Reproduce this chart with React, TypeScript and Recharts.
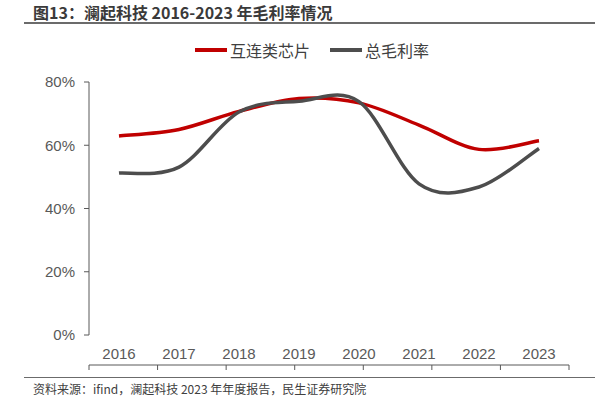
import React from "react";
import { LineChart, Line, XAxis, YAxis } from "recharts";

// 图13：澜起科技 2016-2023 年毛利率情况
const years = ["2016", "2017", "2018", "2019", "2020", "2021", "2022", "2023"];
const interconnect = [62.9, 65.0, 70.7, 74.8, 73.4, 66.4, 58.7, 61.4];
const totalMargin = [51.2, 53.1, 70.5, 73.9, 73.8, 47.8, 46.8, 59.0];
const yTicks = [0, 20, 40, 60, 80];
const bandEdges = [0, 1, 2, 3, 4, 5, 6, 7, 8];

const series = [
  { key: "interconnect", name: "互连类芯片", color: "#C00000" },
  { key: "total", name: "总毛利率", color: "#4D4D4D" },
];

const data = years.map((y, i) => ({
  year: y,
  interconnect: interconnect[i],
  total: totalMargin[i],
}));

const CJK = '"Noto Sans CJK SC", "Noto Sans", sans-serif';
const AXIS = "#595959";

// Excel 风格平滑线（Catmull-Rom → 三次贝塞尔）
const smooth = (ctx: any) => {
  let pts: number[][] = [];
  return {
    areaStart() {},
    areaEnd() {},
    lineStart() {
      pts = [];
    },
    point(x: number, y: number) {
      pts.push([+x, +y]);
    },
    lineEnd() {
      if (!pts.length) return;
      ctx.moveTo(pts[0][0], pts[0][1]);
      for (let i = 0; i < pts.length - 1; i++) {
        const p0 = pts[i - 1] || pts[i];
        const p1 = pts[i];
        const p2 = pts[i + 1];
        const p3 = pts[i + 2] || p2;
        ctx.bezierCurveTo(
          p1[0] + (p2[0] - p0[0]) / 6,
          p1[1] + (p2[1] - p0[1]) / 6,
          p2[0] - (p3[0] - p1[0]) / 6,
          p2[1] - (p3[1] - p1[1]) / 6,
          p2[0],
          p2[1]
        );
      }
    },
  };
};

export default function App() {
  return (
    <div style={{ position: "absolute", left: 0, top: 0, width: 610, height: 404, background: "#fff", fontFamily: CJK }}>
      <div
        style={{
          position: "absolute",
          left: 33,
          top: 2,
          fontSize: 16,
          lineHeight: "20px",
          fontWeight: 700,
          color: "#3A3A3A",
          whiteSpace: "nowrap",
        }}
      >
        图13：澜起科技 2016-2023 年毛利率情况
      </div>
      <div style={{ position: "absolute", left: 24, top: 22, width: 571, height: 2, background: "#6B6B6B" }} />

      <div style={{ position: "absolute", left: 195, top: 40, display: "flex", alignItems: "center", whiteSpace: "nowrap" }}>
        {series.map((s, i) => (
          <div key={s.key} style={{ display: "flex", alignItems: "center", marginRight: i === 0 ? 20 : 0 }}>
            <div style={{ width: 32, height: 4, background: s.color, marginRight: 3 }} />
            <span style={{ fontSize: 16, lineHeight: "20px", color: "#404040" }}>{s.name}</span>
          </div>
        ))}
      </div>

      <div style={{ position: "absolute", left: 0, top: 0 }}>
        <LineChart width={610} height={404} data={data} margin={{ top: 82, right: 41, bottom: 38, left: 29 }}>
          <XAxis
            xAxisId="edges"
            type="number"
            domain={[0, 8]}
            ticks={bandEdges}
            allowDataOverflow
            height={1}
            tickSize={5}
            tickFormatter={() => ""}
            stroke={AXIS}
            axisLine={{ stroke: AXIS, strokeWidth: 1 }}
            tickLine={{ stroke: AXIS }}
          />
          <XAxis
            xAxisId="cat"
            dataKey="year"
            scale="band"
            height={30}
            axisLine={false}
            tickLine={false}
            tickSize={6}
            tickMargin={7}
            interval={0}
            tick={{ fill: AXIS, fontSize: 15, fontFamily: '"Liberation Sans", Arial, sans-serif' }}
          />
          <YAxis
            domain={[0, 80]}
            ticks={yTicks}
            width={60}
            tickSize={5}
            tickMargin={9}
            tickFormatter={(v: number) => `${v}%`}
            axisLine={{ stroke: AXIS }}
            tickLine={{ stroke: AXIS }}
            tick={{ fill: AXIS, fontSize: 15, fontFamily: '"Liberation Sans", Arial, sans-serif' }}
          />
          {series.map((s) => (
            <Line
              key={s.key}
              xAxisId="cat"
              dataKey={s.key}
              name={s.name}
              type={smooth as any}
              stroke={s.color}
              strokeWidth={3.5}
              dot={false}
              activeDot={false}
              isAnimationActive={false}
            />
          ))}
        </LineChart>
      </div>

      <div style={{ position: "absolute", left: 24, top: 377, width: 571, height: 1, background: "#6B6B6B" }} />
      <div
        style={{
          position: "absolute",
          left: 33,
          top: 381,
          fontSize: 12,
          lineHeight: "16px",
          color: "#404040",
          whiteSpace: "nowrap",
        }}
      >
        资料来源：ifind，澜起科技 2023 年年度报告，民生证券研究院
      </div>
    </div>
  );
}
